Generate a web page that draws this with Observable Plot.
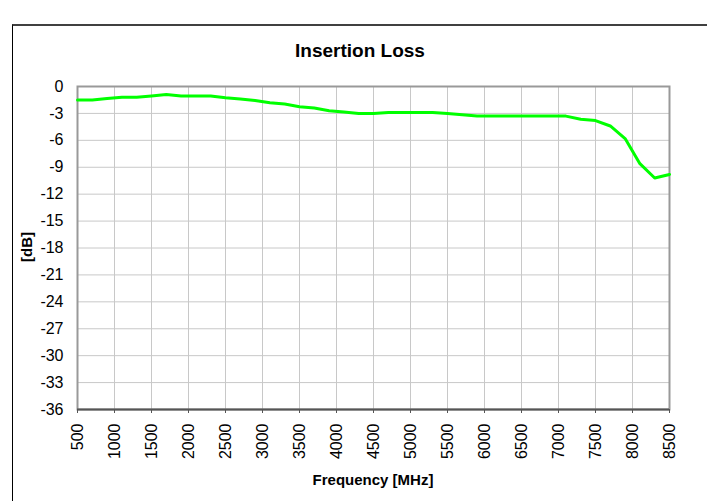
<!DOCTYPE html>
<html><head><meta charset="utf-8">
<script src="https://cdn.jsdelivr.net/npm/d3@7"></script>
<script src="https://cdn.jsdelivr.net/npm/@observablehq/plot@0.6"></script>
<style>
body{margin:0;background:#fff;font-family:"Liberation Sans",Arial,sans-serif;}
#wrap{position:relative;width:707px;height:501px;overflow:hidden;background:#fff;}
#frame{position:absolute;left:12px;top:24px;width:800px;height:600px;border-top:2px solid #404040;border-left:1px solid #000;box-sizing:border-box;pointer-events:none;}
#chart{position:absolute;left:0;top:0;}
#title{position:absolute;left:0;width:720px;top:40px;text-align:center;font-weight:bold;font-size:19px;line-height:22px;color:#000;}
#ylab{position:absolute;left:26px;top:247px;transform:translate(-50%,-50%) rotate(-90deg);font-weight:bold;font-size:15px;white-space:nowrap;color:#000;}
#xlab{position:absolute;left:373px;top:479px;transform:translate(-50%,-50%);font-weight:bold;font-size:15px;white-space:nowrap;color:#000;}
</style>
</head><body>
<div id="wrap">
  <div id="chart"></div>
  <div id="frame"></div>
  <div id="title">Insertion Loss</div>
  <div id="ylab">[dB]</div>
  <div id="xlab">Frequency [MHz]</div>
</div>
<script>
const titleText = "Insertion Loss";
const xLabel = "Frequency [MHz]";
const yLabel = "[dB]";
const freqMHz = [500,700,900,1100,1300,1500,1700,1900,2100,2300,2500,2700,2900,3100,3300,3500,3700,3900,4100,4300,4500,4700,4900,5100,5300,5500,5700,5900,6100,6300,6500,6700,6900,7100,7300,7500,7700,7900,8100,8300,8500];
const lossDb = [-1.5,-1.5,-1.35,-1.2,-1.2,-1.05,-0.9,-1.05,-1.05,-1.05,-1.25,-1.4,-1.55,-1.8,-1.95,-2.25,-2.4,-2.7,-2.85,-3.0,-3.0,-2.9,-2.9,-2.9,-2.9,-3.0,-3.15,-3.3,-3.3,-3.3,-3.3,-3.3,-3.3,-3.3,-3.65,-3.8,-4.4,-5.8,-8.6,-10.2,-9.8];
const xTicks = d3.range(500, 8501, 500);
const yTicks = d3.range(-36, 0.1, 3);

const data = freqMHz.map((f, i) => ({f, v: lossDb[i]}));

const chart = Plot.plot({
  width: 707,
  height: 501,
  marginLeft: 77,
  marginRight: 38,
  marginTop: 86,
  marginBottom: 92,
  style: {fontFamily: "'Liberation Sans', Arial, sans-serif", fontSize: "16px", color: "#000", background: "transparent"},
  x: {domain: [500, 8500], label: null},
  y: {domain: [-36, 0], label: null},
  marks: [
    Plot.gridX(xTicks, {stroke: "#c8c8c8", strokeOpacity: 1}),
    Plot.gridY(yTicks, {stroke: "#c8c8c8", strokeOpacity: 1}),
    Plot.frame({stroke: "#999", strokeWidth: 2}),
    Plot.ruleY([-36], {stroke: "#555", strokeWidth: 2}),
    Plot.line(data, {x: "f", y: "v", stroke: "#00ff00", strokeWidth: 3, curve: "linear"}),
    Plot.axisX(xTicks, {tickRotate: -90, tickSize: 4, tickPadding: 10, stroke: "#555", tickFormat: d => String(d), label: null}),
    Plot.axisY(yTicks, {tickSize: 0, tickPadding: 14, tickFormat: d => String(d), label: null})
  ]
});
document.getElementById("chart").appendChild(chart);
</script>
</body></html>
